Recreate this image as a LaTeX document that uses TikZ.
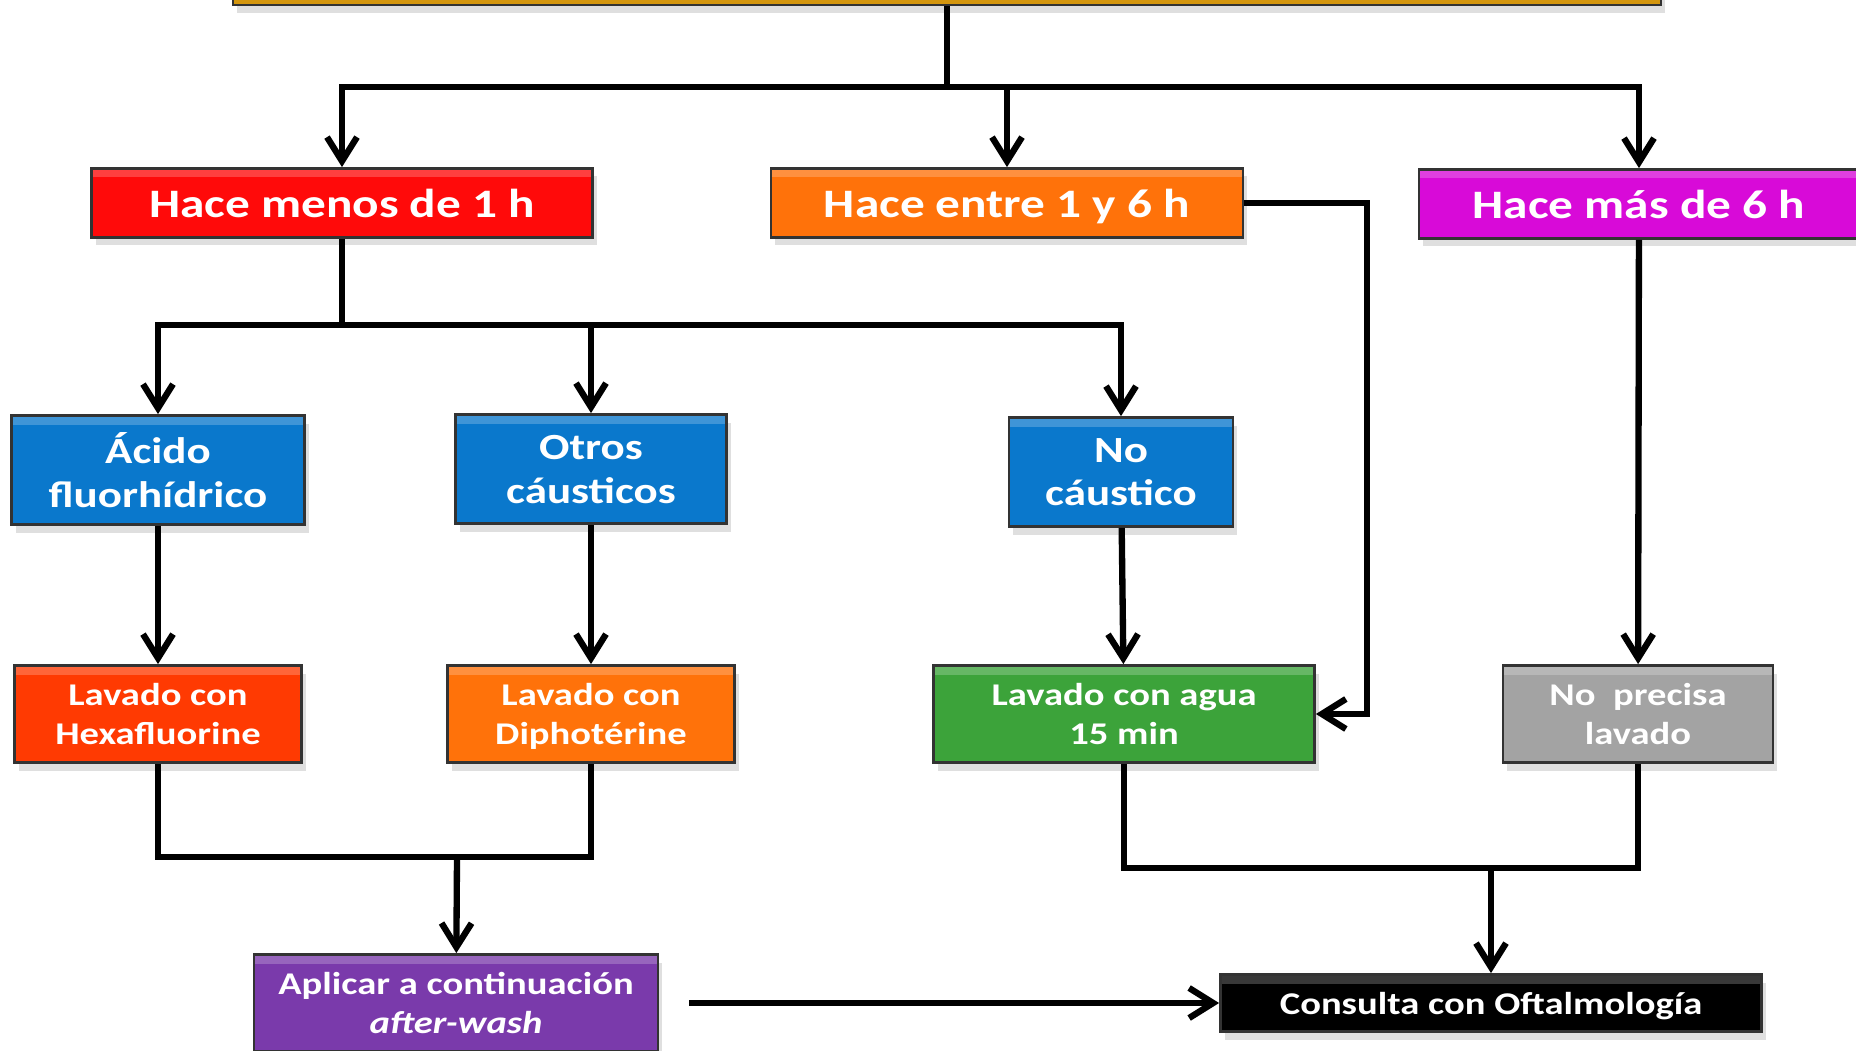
\documentclass[tikz,border=0pt]{standalone}
\usepackage{fontspec}
\setmainfont{Carlito}[FakeStretch=1.22]
\usetikzlibrary{arrows.meta,shadows}

\definecolor{gold}{HTML}{D4960E}
\definecolor{rojo}{HTML}{FF0A0A}
\definecolor{naranja}{HTML}{FF720A}
\definecolor{magenta1}{HTML}{D80AD8}
\definecolor{azul}{HTML}{0A78CC}
\definecolor{rojizo}{HTML}{FF3A02}
\definecolor{verde}{HTML}{3CA33A}
\definecolor{gris}{HTML}{A3A3A3}
\definecolor{morado}{HTML}{7A3AAB}

\begin{document}
\begin{tikzpicture}[line width=1.8pt, >={Straight Barb[length=2.4mm,width=3mm]}]
		\tikzstyle{box}=[rectangle,draw=black!80,line width=0.8pt,text=white,align=center,inner sep=0pt,text depth=0pt,
			drop shadow={shadow xshift=0.4mm,shadow yshift=-0.8mm,opacity=0.25},
			path picture={\fill[white,opacity=0.22] ([yshift=-0.9mm]path picture bounding box.north west) rectangle (path picture bounding box.north east);}]
		\tikzstyle{big}=[box,minimum height=6.9mm,font=\bfseries\fontsize{11.5}{13}\selectfont]
		\tikzstyle{mid}=[box,minimum height=10.9mm,font=\bfseries\fontsize{10.5}{12.5}\selectfont]
		\tikzstyle{small}=[box,minimum height=9.7mm,font=\bfseries\fontsize{9}{11}\selectfont]
		\useasboundingbox (0,0) rectangle (18.56,-10.51);
		
		\node[box,fill=gold,minimum width=142.8mm,minimum height=6mm](top) at (9.47,0.25){};
		
		\node[big,fill=rojo,minimum width=50.1mm](t-1) at (3.42,-2.03){Hace menos de 1 h};
		\node[big,fill=naranja,minimum width=47.2mm](t-2) at (10.07,-2.03){Hace entre 1 y 6 h};
		\node[big,fill=magenta1,minimum width=44mm](t-3) at (16.39,-2.04){Hace más de 6 h};
		
		\node[mid,fill=azul,minimum width=29.3mm](s-1) at (1.58,-4.70){Ácido\\fluorhídrico};
		\node[mid,fill=azul,minimum width=27.1mm](s-2) at (5.91,-4.69){Otros\\cáusticos};
		\node[mid,fill=azul,minimum width=22.4mm](s-3) at (11.21,-4.72){No\\cáustico};
		
		\node[small,fill=rojizo,minimum width=28.7mm](l-1) at (1.58,-7.14){Lavado con\\Hexafluorine};
		\node[small,fill=naranja,minimum width=28.7mm](l-2) at (5.91,-7.14){Lavado con\\Diphotérine};
		\node[small,fill=verde,minimum width=38.1mm](l-3) at (11.24,-7.14){Lavado con agua\\15 min};
		\node[small,fill=gris,minimum width=27mm](l-4) at (16.38,-7.14){No~ precisa\\lavado};
		
		\node[small,fill=morado,minimum width=40.4mm](a-1) at (4.56,-10.03){Aplicar a continuación\\\textit{after-wash}};
		\node[small,fill=black,minimum width=54.1mm,minimum height=5.7mm](c-1) at (14.91,-10.03){Consulta con Oftalmología};
		
		\coordinate (j-0) at (9.47,-0.87);
		\coordinate (j-1) at (3.42,-3.25);
		\coordinate (j-2) at (13.67,-7.14);
		\coordinate (j-3) at (4.57,-8.57);
		\coordinate (j-4) at (14.91,-8.68);
		
		\draw (top) -- (j-0);
		\foreach \y in {1,...,3}
		\draw[->] (j-0) -| (t-\y);
		
		\draw (t-1) -- (j-1);
		\foreach \y in {1,...,3}
		\draw[->] (j-1) -| (s-\y);
		
		\foreach \y in {1,...,3}
		\draw[->] (s-\y) -- (l-\y);
		\draw[->] (t-2) -| (j-2) -- (l-3);
		\draw[->] (t-3) -- (l-4);
		
		\draw (l-1.south) |- (j-3) -| (l-2.south);
		\draw[->] (j-3) -- (a-1);
		\draw (l-3.south) |- (j-4) -| (l-4.south);
		\draw[->] (j-4) -- (c-1);
		\draw[->,shorten <=3mm] (a-1) -- (c-1);
\end{tikzpicture}
\end{document}
